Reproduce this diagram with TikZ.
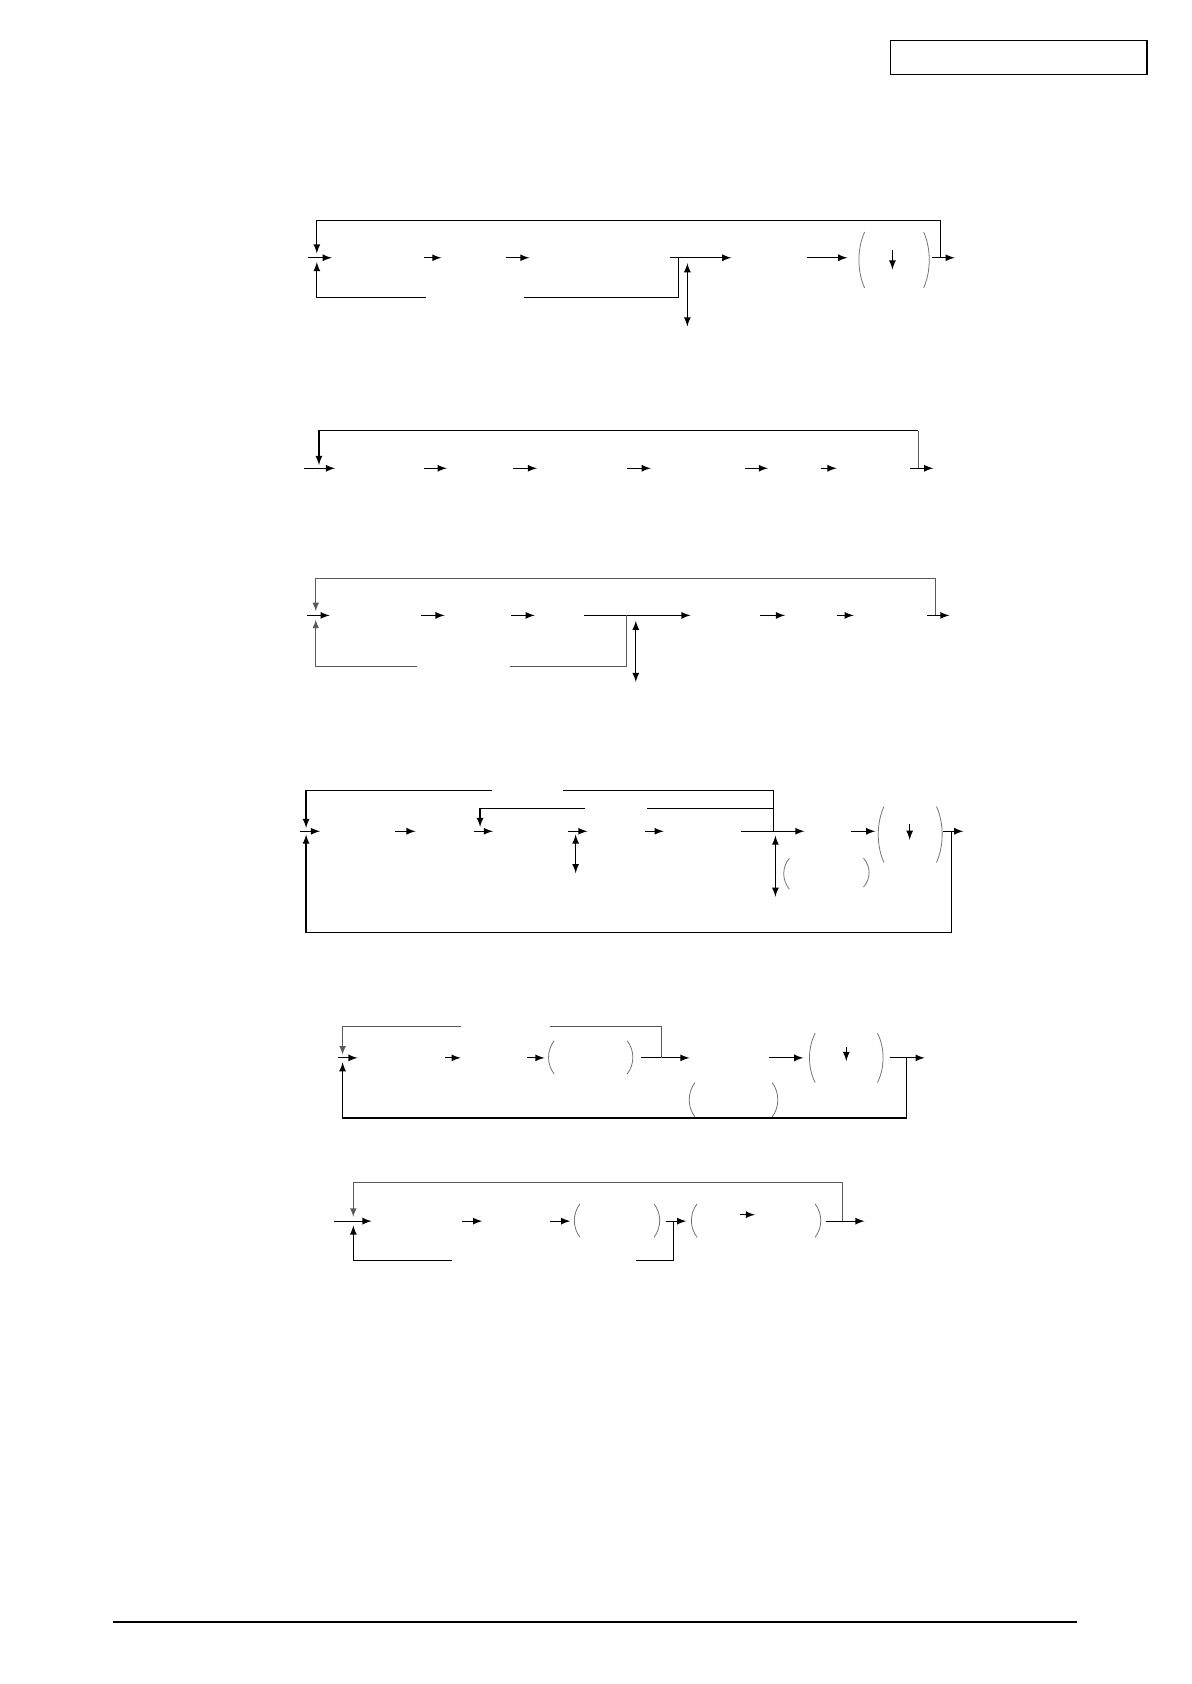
\documentclass[tikz,border=0pt]{standalone}
\usepackage{tikz}
\usetikzlibrary{arrows}
\tikzstyle{wire} = [line width=0.6pt]
\tikzstyle{fb} = [line width=0.5pt, black!65]
\tikzstyle{brk} = [line width=0.4pt, black!55]
\tikzstyle{frame} = [draw, line width=0.6pt]
% round brackets: xmin/xmax, top, bottom
\newcommand{\lbrk}[3]{\draw[brk] ({#1+7},#2) .. controls (#1,{#2+(#3-#2)*0.3}) and (#1,{#2+(#3-#2)*0.7}) .. ({#1+7},#3);}
\newcommand{\rbrk}[3]{\draw[brk] ({#1-7},#2) .. controls (#1,{#2+(#3-#2)*0.3}) and (#1,{#2+(#3-#2)*0.7}) .. ({#1-7},#3);}
\begin{document}
\begin{tikzpicture}[x=0.019cm, y=-0.019cm, >=latex]
    \useasboundingbox (0,0) rectangle (1109,1568);

    % page header box and footer rule
    \coordinate (hdr-a) at (829,38);
    \coordinate (hdr-b) at (1068,69);
    \draw[frame] (hdr-a) rectangle (hdr-b);
    \coordinate (rule-l) at (105,1510);
    \coordinate (rule-r) at (1003,1510);
    \draw[line width=0.9pt] (rule-l) -- (rule-r);

    % first chart: the forward path
    \foreach \n/\xa/\xb in {1/287/309,2/395/411,3/471/493,4/624/681,5/751/789,6/868/889}
        {\coordinate (a\n-l) at (\xa,240); \coordinate (a\n-r) at (\xb,240);
         \draw[wire,->] (a\n-l) -- (a\n-r);}
    \coordinate (a-tap) at (876,240);
    \coordinate (a-corner) at (876,205);
    \coordinate (a-in-t) at (295,236);
    \coordinate (a-in-b) at (295,244);
    \draw[wire,->] (a-tap) -- (a-corner) -| (a-in-t);
    % return path under the line
    \coordinate (a-br) at (632,240);
    \coordinate (a-gap-r) at (488,277);
    \coordinate (a-gap-l) at (397,277);
    \draw[wire] (a-br) |- (a-gap-r);
    \draw[wire,->] (a-gap-l) -| (a-in-b);
    \coordinate (a-v1) at (640,245);
    \coordinate (a-v2) at (640,304);
    \draw[wire,<->] (a-v1) -- (a-v2);
    \lbrk{798}{216}{268} \rbrk{867}{216}{268}
    \coordinate (a-d1) at (831,233);
    \coordinate (a-d2) at (831,251);
    \draw[wire,->] (a-d1) -- (a-d2);

    % second chart
    \foreach \n/\xa/\xb in {1/283/312,2/395/416,3/478/500,4/584/606,5/694/715,6/764/779,7/847/869}
        {\coordinate (b\n-l) at (\xa,436); \coordinate (b\n-r) at (\xb,436);
         \draw[wire,->] (b\n-l) -- (b\n-r);}
    \coordinate (b-tap) at (855,436);
    \coordinate (b-corner) at (855,401);
    \coordinate (b-in-t) at (297,433);
    \draw[fb] (b-tap) -- (b-corner);
    \draw[wire,->] (b-corner) -| (b-in-t);

    % third chart
    \foreach \n/\xa/\xb in {1/286/307,2/392/414,3/476/498,4/544/643,5/708/731,6/779/795,7/863/884}
        {\coordinate (c\n-l) at (\xa,573); \coordinate (c\n-r) at (\xb,573);
         \draw[wire,->] (c\n-l) -- (c\n-r);}
    \coordinate (c-tap) at (871,573);
    \coordinate (c-corner) at (871,539);
    \coordinate (c-in-t) at (294,569);
    \coordinate (c-in-b) at (294,577);
    \draw[fb,->] (c-tap) -- (c-corner) -| (c-in-t);
    \coordinate (c-br) at (583,573);
    \coordinate (c-gap-r) at (475,621);
    \coordinate (c-gap-l) at (388,621);
    \draw[fb] (c-br) |- (c-gap-r);
    \draw[fb,->] (c-gap-l) -| (c-in-b);
    \coordinate (c-v1) at (592,578);
    \coordinate (c-v2) at (592,635);
    \draw[wire,<->] (c-v1) -- (c-v2);

    % fourth chart
    \foreach \n/\xa/\xb in {1/279/298,2/368/387,3/441/459,4/529/547,5/601/618,6/690/749,7/792/815,8/878/897}
        {\coordinate (d\n-l) at (\xa,774); \coordinate (d\n-r) at (\xb,774);
         \draw[wire,->] (d\n-l) -- (d\n-r);}
    \coordinate (d-tap) at (720,774);
    \coordinate (d-corner) at (720,736);
    \coordinate (d-mid) at (720,753);
    \coordinate (d-gap-r) at (524,736);
    \coordinate (d-gap-l) at (458,736);
    \coordinate (d-in-t) at (285,771);
    \coordinate (d-in-b) at (285,777);
    \draw[wire] (d-tap) -- (d-corner) -- (d-gap-r);
    \draw[wire,->] (d-gap-l) -| (d-in-t);
    \coordinate (d-igap-r) at (602,753);
    \coordinate (d-igap-l) at (545,753);
    \coordinate (d-in2) at (447,770);
    \draw[wire] (d-mid) -- (d-igap-r);
    \draw[wire,->] (d-igap-l) -| (d-in2);
    \coordinate (d-v1) at (536,777);
    \coordinate (d-v2) at (536,813);
    \draw[wire,<->] (d-v1) -- (d-v2);
    \coordinate (d-w1) at (722,778);
    \coordinate (d-w2) at (722,835);
    \draw[wire,<->] (d-w1) -- (d-w2);
    \lbrk{728}{799}{828} \rbrk{811}{799}{826}
    \lbrk{816}{751}{803} \rbrk{879}{751}{803}
    \coordinate (d-d1) at (847,767);
    \coordinate (d-d2) at (847,782);
    \draw[wire,->] (d-d1) -- (d-d2);
    \coordinate (d-out) at (886,774);
    \coordinate (d-low) at (886,868);
    \draw[wire,->] (d-out) -- (d-low) -| (d-in-b);

    % fifth chart
    \foreach \n/\xa/\xb in {1/315/333,2/414/429,3/491/507,4/597/642,5/716/748,6/829/861}
        {\coordinate (e\n-l) at (\xa,985); \coordinate (e\n-r) at (\xb,985);
         \draw[wire,->] (e\n-l) -- (e\n-r);}
    \coordinate (e-tap) at (616,985);
    \coordinate (e-corner) at (616,956);
    \coordinate (e-gap-r) at (512,956);
    \coordinate (e-gap-l) at (429,956);
    \coordinate (e-in-t) at (319,982);
    \coordinate (e-in-b) at (319,989);
    \draw[fb] (e-tap) -- (e-corner) -- (e-gap-r);
    \draw[fb,->] (e-gap-l) -| (e-in-t);
    \coordinate (e-out) at (844,985);
    \coordinate (e-low) at (844,1041);
    \draw[wire,->] (e-out) -- (e-low) -| (e-in-b);
    \lbrk{509}{969}{1000} \rbrk{591}{969}{1000}
    \lbrk{752}{962}{1008} \rbrk{824}{962}{1008}
    \lbrk{640}{1008}{1040} \rbrk{726}{1008}{1040}
    \coordinate (e-d1) at (788,975);
    \coordinate (e-d2) at (788,988);
    \draw[wire,->] (e-d1) -- (e-d2);

    % sixth chart
    \foreach \n/\xa/\xb in {1/311/346,2/430/449,3/512/531,4/620/639,5/769/805}
        {\coordinate (f\n-l) at (\xa,1137); \coordinate (f\n-r) at (\xb,1137);
         \draw[wire,->] (f\n-l) -- (f\n-r);}
    \coordinate (f-tap) at (784,1137);
    \coordinate (f-corner) at (784,1101);
    \coordinate (f-in-t) at (329,1133);
    \coordinate (f-in-b) at (329,1141);
    \draw[fb,->] (f-tap) -- (f-corner) -| (f-in-t);
    \coordinate (f-br) at (627,1137);
    \coordinate (f-gap-r) at (592,1174);
    \coordinate (f-gap-l) at (421,1174);
    \draw[wire] (f-br) |- (f-gap-r);
    \draw[wire,->] (f-gap-l) -| (f-in-b);
    \lbrk{533}{1121}{1152} \rbrk{616}{1121}{1152}
    \lbrk{642}{1121}{1152} \rbrk{766}{1121}{1152}
    \coordinate (f-d1) at (689,1131);
    \coordinate (f-d2) at (703,1131);
    \draw[wire,->] (f-d1) -- (f-d2);

\end{tikzpicture}
\end{document}
